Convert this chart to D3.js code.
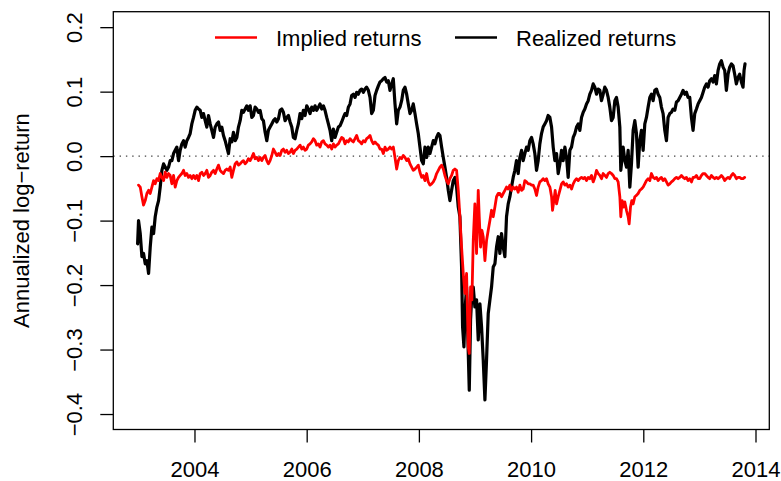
<!DOCTYPE html>
<html>
<head>
<meta charset="utf-8">
<script src="https://cdn.jsdelivr.net/npm/d3@7"></script>
<style>
  body { margin: 0; background: #fff; }
  svg { display: block; font-family: "Liberation Sans", Arial, Helvetica, sans-serif; }
</style>
</head>
<body>
<div id="chart"></div>
<script>
// ---- data ----
var yTicks = [-0.4, -0.3, -0.2, -0.1, 0.0, 0.1, 0.2];
var xTicks = [2004, 2006, 2008, 2010, 2012, 2014];
var seriesNames = ["Implied returns", "Realized returns"];

// realized returns (black)
var realizedDates = [
  2002.986,2003.003,2003.033,2003.063,2003.092,2003.122,2003.152,2003.182,2003.211,2003.241,
  2003.271,2003.300,2003.330,2003.360,2003.389,2003.419,2003.449,2003.478,2003.508,2003.538,
  2003.567,2003.597,2003.627,2003.656,2003.686,2003.716,2003.745,2003.775,2003.805,2003.834,
  2003.864,2003.894,2003.923,2003.953,2003.983,2004.012,2004.042,2004.072,2004.102,2004.131,
  2004.161,2004.191,2004.220,2004.250,2004.280,2004.309,2004.339,2004.369,2004.398,2004.428,
  2004.458,2004.487,2004.517,2004.547,2004.576,2004.606,2004.636,2004.665,2004.695,2004.725,
  2004.755,2004.784,2004.814,2004.844,2004.873,2004.903,2004.933,2004.962,2004.992,2005.022,
  2005.051,2005.081,2005.111,2005.140,2005.170,2005.200,2005.229,2005.259,2005.289,2005.318,
  2005.348,2005.378,2005.407,2005.437,2005.467,2005.497,
  2005.526,2005.556,2005.585,2005.615,2005.645,2005.674,2005.704,2005.734,2005.763,2005.793,
  2005.823,2005.852,2005.882,2005.912,2005.941,2005.971,2006.001,2006.030,2006.060,2006.090,
  2006.120,2006.149,2006.179,2006.209,2006.238,2006.268,2006.298,2006.327,2006.357,2006.387,
  2006.416,2006.446,2006.476,2006.505,2006.535,2006.565,2006.594,2006.624,2006.654,2006.683,
  2006.713,2006.743,2006.773,2006.802,2006.832,2006.862,2006.891,2006.921,2006.951,2006.980,
  2007.010,2007.040,2007.069,2007.099,2007.129,2007.158,2007.188,2007.218,2007.247,2007.277,
  2007.307,2007.336,2007.366,2007.396,2007.425,2007.455,2007.485,2007.515,2007.544,2007.574,
  2007.604,2007.633,
  2007.663,2007.693,2007.722,2007.752,2007.782,2007.811,2007.841,2007.871,2007.900,2007.930,
  2007.960,2007.989,2008.019,2008.049,2008.078,2008.108,2008.138,2008.167,2008.197,2008.227,
  2008.257,2008.286,2008.316,2008.346,2008.375,2008.405,2008.435,2008.464,2008.494,2008.524,
  2008.553,2008.583,2008.613,2008.642,2008.672,2008.702,
  2008.731,2008.761,2008.779,2008.803,2008.826,2008.850,2008.874,2008.898,2008.921,2008.945,
  2008.969,2008.998,2009.028,2009.058,2009.088,2009.117,2009.147,2009.177,2009.206,2009.236,
  2009.266,2009.295,2009.325,2009.355,2009.384,2009.414,2009.444,2009.473,2009.503,2009.533,
  2009.562,2009.592,2009.622,2009.651,2009.681,2009.711,2009.740,2009.770,2009.800,2009.830,
  2009.859,2009.889,2009.919,2009.948,2009.978,2010.008,2010.037,2010.067,2010.097,2010.126,
  2010.156,2010.186,2010.215,2010.245,2010.275,2010.304,
  2010.335,2010.365,2010.394,2010.424,2010.454,2010.483,2010.513,2010.543,2010.572,2010.602,
  2010.632,2010.661,2010.691,2010.721,2010.751,2010.780,2010.810,2010.840,2010.869,2010.899,
  2010.929,2010.958,2010.988,2011.018,2011.047,2011.077,2011.107,2011.136,2011.166,2011.196,
  2011.225,2011.255,2011.285,2011.314,2011.344,2011.374,2011.403,2011.433,2011.463,2011.493,
  2011.522,2011.552,2011.582,2011.599,2011.617,2011.641,2011.671,2011.700,2011.730,2011.760,
  2011.789,2011.819,2011.849,2011.878,2011.908,2011.938,2011.967,2011.997,2012.027,2012.056,
  2012.086,2012.116,2012.145,2012.175,2012.205,2012.235,2012.264,2012.294,2012.323,2012.353,
  2012.383,2012.413,2012.442,2012.472,2012.502,2012.531,2012.561,2012.591,2012.620,2012.650,
  2012.680,2012.709,2012.739,2012.769,2012.798,2012.828,2012.858,2012.887,2012.917,2012.947,
  2012.977,2013.006,2013.036,2013.066,2013.095,2013.125,2013.155,2013.184,2013.214,2013.244,
  2013.273,2013.303,2013.333,2013.362,2013.392,2013.422,2013.451,2013.481,2013.511,2013.540,
  2013.570,2013.600,2013.629,2013.659,2013.689,2013.718,2013.748,2013.778,2013.796,2013.813
];
var realized = [
  -0.136,-0.100,-0.120,-0.156,-0.151,-0.167,-0.162,-0.182,-0.141,-0.110,
  -0.120,-0.094,-0.079,-0.069,-0.048,-0.022,-0.012,-0.017,-0.022,-0.017,
  -0.007,-0.007,0.004,0.009,0.014,-0.007,0.009,0.019,0.024,0.014,
  0.024,0.029,0.035,0.050,0.060,0.071,0.076,0.073,0.071,0.060,
  0.066,0.055,0.045,0.063,0.050,0.040,0.029,0.045,0.050,0.053,
  0.040,0.045,0.032,0.024,0.014,0.004,0.027,0.022,0.037,0.024,
  0.029,0.045,0.055,0.071,0.068,0.073,0.078,0.071,0.078,0.060,
  0.063,0.076,0.073,0.068,0.071,0.058,0.055,0.037,0.024,0.040,
  0.045,0.050,0.055,0.058,0.053,0.058,
  0.071,0.073,0.068,0.055,0.060,0.063,0.053,0.045,0.029,0.027,
  0.040,0.050,0.066,0.058,0.071,0.063,0.078,0.073,0.066,0.076,
  0.071,0.078,0.071,0.076,0.081,0.073,0.078,0.071,0.060,0.050,
  0.040,0.024,0.042,0.029,0.037,0.045,0.047,0.053,0.060,0.066,
  0.063,0.076,0.081,0.094,0.096,0.091,0.099,0.096,0.102,0.104,
  0.099,0.104,0.107,0.102,0.091,0.066,0.071,0.094,0.102,0.109,
  0.115,0.117,0.120,0.122,0.115,0.117,0.102,0.112,0.120,0.081,
  0.050,0.071,
  0.076,0.086,0.102,0.107,0.096,0.081,0.066,0.071,0.081,0.066,
  0.050,0.035,0.014,-0.007,-0.012,0.014,-0.002,0.014,0.004,0.014,
  0.024,0.019,0.029,0.035,0.032,0.014,-0.002,-0.017,-0.033,-0.053,
  -0.069,-0.053,-0.038,-0.033,-0.048,-0.079,
  -0.094,-0.172,-0.265,-0.296,-0.234,-0.203,-0.285,-0.363,-0.254,-0.213,
  -0.203,-0.234,-0.223,-0.285,-0.229,-0.265,-0.316,-0.378,-0.316,-0.244,
  -0.223,-0.203,-0.172,-0.167,-0.141,-0.125,-0.151,-0.120,-0.141,-0.156,
  -0.094,-0.074,-0.063,-0.048,-0.033,-0.022,-0.007,-0.027,-0.002,0.009,
  -0.007,0.004,0.014,0.009,0.024,0.029,0.019,0.004,-0.022,-0.007,
  0.019,0.035,0.045,0.050,0.055,0.063,
  0.060,0.045,0.014,-0.007,0.004,-0.027,-0.012,0.009,-0.007,0.014,
  -0.002,-0.033,0.009,0.014,0.029,0.035,0.045,0.050,0.040,0.060,
  0.068,0.073,0.081,0.086,0.096,0.102,0.112,0.107,0.096,0.104,
  0.102,0.086,0.096,0.107,0.102,0.091,0.076,0.055,0.060,0.086,
  0.091,0.076,0.045,-0.022,-0.007,0.014,-0.007,-0.017,0.009,-0.048,
  -0.012,0.040,0.055,0.035,-0.017,0.024,0.040,0.009,0.050,0.060,
  0.076,0.091,0.096,0.086,0.102,0.104,0.096,0.091,0.076,0.066,
  0.040,0.024,0.060,0.066,0.068,0.073,0.071,0.084,0.086,0.091,
  0.096,0.102,0.096,0.099,0.091,0.091,0.060,0.040,0.066,0.073,
  0.081,0.086,0.091,0.099,0.107,0.112,0.107,0.117,0.120,0.115,
  0.125,0.112,0.133,0.143,0.148,0.138,0.133,0.102,0.127,0.138,
  0.143,0.140,0.127,0.112,0.122,0.127,0.115,0.107,0.133,0.143
];

// implied returns (red)
var impliedDates = [
  2003.003,2003.033,2003.063,2003.092,2003.122,2003.152,2003.182,2003.211,2003.241,2003.271,
  2003.300,2003.330,2003.360,2003.389,2003.419,2003.449,2003.478,2003.508,2003.538,2003.567,
  2003.597,2003.627,2003.656,2003.686,2003.716,2003.745,2003.775,2003.805,2003.834,2003.864,
  2003.894,2003.923,2003.953,2003.983,2004.012,2004.042,2004.072,2004.102,2004.131,2004.161,
  2004.191,2004.220,2004.250,2004.280,2004.309,2004.339,2004.369,2004.398,2004.428,2004.458,
  2004.487,2004.517,2004.547,2004.576,2004.606,2004.636,2004.665,2004.695,2004.725,2004.755,
  2004.784,2004.814,2004.844,2004.873,2004.903,2004.933,2004.962,2004.992,2005.022,2005.051,
  2005.081,2005.111,2005.140,2005.170,2005.200,2005.229,2005.259,2005.289,2005.318,2005.348,
  2005.378,2005.407,2005.437,2005.467,2005.497,
  2005.526,2005.556,2005.585,2005.615,2005.645,2005.674,2005.704,2005.734,2005.763,2005.793,
  2005.823,2005.852,2005.882,2005.912,2005.941,2005.971,2006.001,2006.030,2006.060,2006.090,
  2006.120,2006.149,2006.179,2006.209,2006.238,2006.268,2006.298,2006.327,2006.357,2006.387,
  2006.416,2006.446,2006.476,2006.505,2006.535,2006.565,2006.594,2006.624,2006.654,2006.683,
  2006.713,2006.743,2006.773,2006.802,2006.832,2006.862,2006.891,2006.921,2006.951,2006.980,
  2007.010,2007.040,2007.069,2007.099,2007.129,2007.158,2007.188,2007.218,2007.247,2007.277,
  2007.307,2007.336,2007.366,2007.396,2007.425,2007.455,2007.485,2007.515,2007.544,2007.574,
  2007.604,2007.633,2007.663,2007.693,2007.722,2007.752,2007.782,2007.811,
  2007.841,2007.871,2007.900,2007.930,2007.960,2007.989,2008.019,2008.049,2008.078,2008.108,
  2008.138,2008.167,2008.197,2008.227,2008.257,2008.286,2008.316,2008.346,2008.375,2008.405,
  2008.435,2008.464,2008.494,2008.524,2008.553,2008.583,2008.613,2008.642,2008.672,2008.702,
  2008.731,2008.761,2008.791,2008.820,2008.850,2008.880,2008.898,2008.921,2008.945,2008.969,
  2008.998,2009.028,2009.058,2009.076,2009.099,2009.123,2009.147,2009.177,2009.206,2009.236,
  2009.266,2009.295,2009.325,2009.355,2009.384,2009.414,2009.444,2009.473,2009.503,2009.533,
  2009.562,2009.592,2009.622,2009.651,2009.681,2009.711,2009.740,2009.770,2009.800,2009.830,
  2009.859,2009.889,2009.919,2009.948,2009.978,2010.008,2010.037,2010.067,2010.097,2010.126,
  2010.156,2010.186,2010.215,2010.245,2010.275,2010.304,
  2010.335,2010.365,2010.382,2010.406,2010.430,2010.454,2010.483,2010.513,2010.543,2010.572,
  2010.602,2010.632,2010.661,2010.691,2010.721,2010.751,2010.780,2010.810,2010.840,2010.869,
  2010.899,2010.929,2010.958,2010.988,2011.018,2011.047,2011.077,2011.107,2011.136,2011.166,
  2011.196,2011.225,2011.255,2011.285,2011.314,2011.344,2011.374,2011.403,2011.433,2011.463,
  2011.493,2011.522,2011.552,2011.582,2011.599,2011.623,2011.647,2011.671,2011.700,2011.730,
  2011.748,2011.772,2011.795,2011.819,2011.849,2011.878,2011.908,2011.938,2011.967,2011.997,
  2012.027,2012.056,2012.086,2012.116,2012.145,2012.175,2012.205,2012.235,2012.264,2012.294,
  2012.323,2012.353,2012.383,2012.413,2012.442,2012.472,2012.502,2012.531,2012.561,2012.591,
  2012.620,2012.650,2012.680,2012.709,2012.739,2012.769,2012.798,2012.828,2012.858,2012.887,
  2012.917,2012.947,2012.977,2013.006,2013.036,2013.066,2013.095,2013.125,2013.155,2013.184,
  2013.214,2013.244,2013.273,2013.303,2013.333,2013.362,2013.392,2013.422,2013.451,2013.481,
  2013.511,2013.540,2013.570,2013.600,2013.629,2013.659,2013.689,2013.718,2013.748,2013.778,
  2013.807
];
var implied = [
  -0.045,-0.048,-0.063,-0.076,-0.069,-0.058,-0.053,-0.058,-0.048,-0.038,
  -0.043,-0.035,-0.038,-0.027,-0.033,-0.038,-0.025,-0.033,-0.027,-0.030,
  -0.043,-0.030,-0.048,-0.038,-0.033,-0.030,-0.027,-0.022,-0.030,-0.027,
  -0.033,-0.030,-0.035,-0.030,-0.035,-0.030,-0.038,-0.027,-0.025,-0.030,
  -0.027,-0.022,-0.033,-0.030,-0.025,-0.022,-0.027,-0.020,-0.014,-0.022,
  -0.025,-0.027,-0.022,-0.020,-0.022,-0.017,-0.033,-0.022,-0.012,-0.009,
  -0.014,-0.012,-0.009,-0.007,-0.012,-0.009,-0.004,-0.007,-0.002,0.004,
  -0.004,-0.002,-0.007,-0.002,-0.007,-0.002,0.001,-0.007,-0.012,-0.007,
  0.001,0.011,0.006,0.001,0.004,
  0.001,0.009,0.011,0.006,0.009,0.004,0.006,0.011,0.004,0.009,
  0.011,0.014,0.017,0.011,0.014,0.009,0.011,0.017,0.019,0.022,
  0.027,0.024,0.017,0.019,0.014,0.022,0.024,0.019,0.017,0.014,
  0.017,0.011,0.019,0.014,0.017,0.019,0.024,0.029,0.027,0.019,
  0.024,0.022,0.027,0.024,0.022,0.027,0.032,0.024,0.022,0.019,
  0.024,0.022,0.027,0.029,0.032,0.024,0.019,0.022,0.019,0.017,
  0.011,0.011,0.004,0.014,0.009,0.011,0.014,0.011,0.014,-0.002,
  -0.020,-0.007,-0.002,-0.004,0.001,-0.002,-0.007,-0.004,
  -0.012,-0.017,-0.022,-0.020,-0.017,-0.014,-0.025,-0.033,-0.030,-0.038,
  -0.027,-0.040,-0.045,-0.043,-0.040,-0.035,-0.027,-0.022,-0.017,-0.014,
  -0.020,-0.030,-0.038,-0.043,-0.035,-0.030,-0.022,-0.020,-0.022,-0.053,
  -0.094,-0.141,-0.182,-0.213,-0.182,-0.296,-0.306,-0.203,-0.223,-0.131,
  -0.074,-0.151,-0.053,-0.094,-0.141,-0.115,-0.125,-0.162,-0.131,-0.115,
  -0.100,-0.084,-0.094,-0.079,-0.063,-0.058,-0.058,-0.063,-0.058,-0.053,
  -0.048,-0.051,-0.045,-0.053,-0.048,-0.051,-0.048,-0.056,-0.045,-0.053,
  -0.051,-0.038,-0.040,-0.043,-0.043,-0.045,-0.045,-0.051,-0.061,-0.048,
  -0.040,-0.038,-0.035,-0.038,-0.035,-0.043,
  -0.048,-0.063,-0.084,-0.069,-0.053,-0.074,-0.063,-0.053,-0.043,-0.040,
  -0.045,-0.043,-0.048,-0.045,-0.051,-0.043,-0.038,-0.035,-0.038,-0.035,
  -0.033,-0.035,-0.033,-0.038,-0.033,-0.035,-0.030,-0.040,-0.033,-0.022,
  -0.027,-0.030,-0.035,-0.027,-0.030,-0.033,-0.027,-0.025,-0.027,-0.030,
  -0.035,-0.035,-0.040,-0.063,-0.094,-0.069,-0.079,-0.071,-0.084,-0.094,
  -0.105,-0.079,-0.069,-0.074,-0.063,-0.061,-0.058,-0.053,-0.051,-0.048,
  -0.043,-0.038,-0.035,-0.038,-0.027,-0.033,-0.035,-0.033,-0.038,-0.035,
  -0.033,-0.038,-0.035,-0.040,-0.045,-0.043,-0.040,-0.038,-0.035,-0.033,
  -0.035,-0.033,-0.030,-0.033,-0.035,-0.033,-0.038,-0.035,-0.040,-0.033,
  -0.033,-0.030,-0.035,-0.035,-0.030,-0.027,-0.027,-0.030,-0.033,-0.035,
  -0.030,-0.033,-0.035,-0.033,-0.035,-0.033,-0.030,-0.033,-0.038,-0.035,
  -0.033,-0.035,-0.030,-0.027,-0.030,-0.035,-0.033,-0.033,-0.035,-0.035,
  -0.033
];

// ---- layout ----
var width = 781, height = 481;
var plot = {left: 113.3, top: 11.7, right: 769.3, bottom: 429.5};
var fontSize = 22;

var svg = d3.select("#chart")
  .append("svg")
  .attr("width", width)
  .attr("height", height);

var x = d3.scaleLinear()
  .domain([2002.553, 2014.246])
  .range([plot.left, plot.right]);

var y = d3.scaleLinear()
  .domain([-0.424, 0.224])
  .range([plot.bottom, plot.top]);

function fmtY(d) {
  return d3.format(".1f")(d).replace("-", "\u2212");
}

// x axis
var xAxis = svg.append("g")
  .attr("transform", "translate(0," + plot.bottom + ")")
  .call(d3.axisBottom(x).tickValues(xTicks).tickFormat(d3.format("d")).tickSize(13));
xAxis.select(".domain").remove();
xAxis.selectAll("line").attr("stroke", "#000").attr("stroke-width", 1.3);
xAxis.selectAll("text")
  .attr("y", 47)
  .attr("dy", 0)
  .attr("fill", "#000")
  .style("font-size", fontSize + "px")
  .style("font-family", "'Liberation Sans', Arial, sans-serif");

// y axis, labels rotated like R's default
var yAxis = svg.append("g")
  .attr("transform", "translate(" + plot.left + ",0)")
  .call(d3.axisLeft(y).tickValues(yTicks).tickFormat(fmtY).tickSize(13));
yAxis.select(".domain").remove();
yAxis.selectAll("line").attr("stroke", "#000").attr("stroke-width", 1.3);
yAxis.selectAll("text")
  .attr("x", 0)
  .attr("y", 0)
  .attr("dy", 0)
  .attr("transform", "translate(-31,0) rotate(-90)")
  .attr("text-anchor", "middle")
  .attr("fill", "#000")
  .style("font-size", fontSize + "px")
  .style("font-family", "'Liberation Sans', Arial, sans-serif");

// y title
svg.append("text")
  .attr("transform", "translate(29," + ((plot.top + plot.bottom) / 2) + ") rotate(-90)")
  .attr("text-anchor", "middle")
  .style("font-size", fontSize + "px")
  .text("Annualized log\u2212return");

// dotted zero line
svg.append("line")
  .attr("x1", plot.left).attr("x2", plot.right)
  .attr("y1", y(0)).attr("y2", y(0))
  .attr("stroke", "#444")
  .attr("stroke-width", 1.3)
  .attr("stroke-dasharray", "1.4,4.9");

// the two series
var line = d3.line()
  .x(function(d) { return x(d[0]); })
  .y(function(d) { return y(d[1]); });

var realizedPts = realizedDates.map(function(d, i) { return [d, realized[i]]; });
var impliedPts = impliedDates.map(function(d, i) { return [d, implied[i]]; });

svg.append("path")
  .datum(realizedPts)
  .attr("d", line)
  .attr("fill", "none")
  .attr("stroke", "#000")
  .attr("stroke-width", 3.2)
  .attr("stroke-linejoin", "round")
  .attr("stroke-linecap", "round");

svg.append("path")
  .datum(impliedPts)
  .attr("d", line)
  .attr("fill", "none")
  .attr("stroke", "#ff0000")
  .attr("stroke-width", 2.8)
  .attr("stroke-linejoin", "round")
  .attr("stroke-linecap", "round");

// plot box
svg.append("rect")
  .attr("x", plot.left)
  .attr("y", plot.top)
  .attr("width", plot.right - plot.left)
  .attr("height", plot.bottom - plot.top)
  .attr("fill", "none")
  .attr("stroke", "#000")
  .attr("stroke-width", 1.3);

// legend (no frame)
var legendItems = [
  {name: seriesNames[0], color: "#ff0000", x1: 215, x2: 257, tx: 276},
  {name: seriesNames[1], color: "#000", x1: 455, x2: 497, tx: 516}
];
var legend = svg.append("g");
legend.selectAll("line")
  .data(legendItems)
  .enter().append("line")
  .attr("x1", function(d) { return d.x1; })
  .attr("x2", function(d) { return d.x2; })
  .attr("y1", 37.5).attr("y2", 37.5)
  .attr("stroke", function(d) { return d.color; })
  .attr("stroke-width", 2.7);
legend.selectAll("text")
  .data(legendItems)
  .enter().append("text")
  .attr("x", function(d) { return d.tx; })
  .attr("y", 45.8)
  .style("font-size", fontSize + "px")
  .text(function(d) { return d.name; });
</script>
</body>
</html>
